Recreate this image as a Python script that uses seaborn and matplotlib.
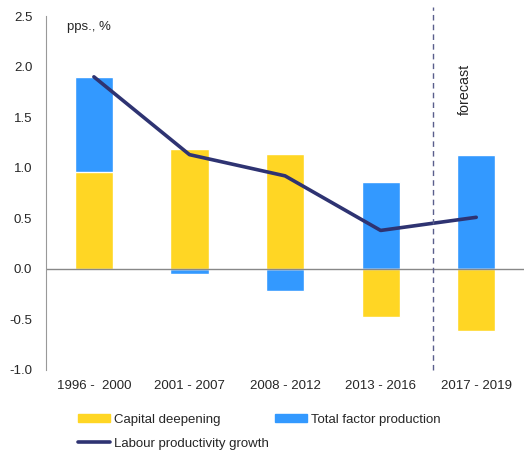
import numpy as np
import matplotlib
matplotlib.use("Agg")
import matplotlib.pyplot as plt
from matplotlib.patches import Patch
from matplotlib.lines import Line2D
import seaborn as sns

# Data
periods = ["1996 -  2000", "2001 - 2007", "2008 - 2012", "2013 - 2016", "2017 - 2019"]
capital_deepening = [0.96, 1.19, 1.14, -0.48, -0.62]
total_factor = [0.94, -0.05, -0.22, 0.86, 1.13]
labour_productivity = [1.90, 1.13, 0.92, 0.38, 0.51]

yellow = "#FFD624"
blue = "#3399FF"
navy = "#2E3372"

sns.set_style("white")
plt.rcParams["font.family"] = ["Liberation Sans", "DejaVu Sans"]
plt.rcParams["font.size"] = 9

fig = plt.figure(figsize=(5.24, 4.5), dpi=100)
ax = fig.add_axes([0.088, 0.178, 0.912, 0.786])

# stack TFP on top of capital deepening when both share a sign
cd = np.array(capital_deepening)
tfp = np.array(total_factor)
tfp_top = np.where(np.sign(cd) == np.sign(tfp), cd + tfp, tfp)

sns.barplot(x=periods, y=tfp_top, color=blue, width=0.4, saturation=1, ax=ax)
sns.barplot(x=periods, y=cd, color=yellow, width=0.4, saturation=1, ax=ax)
sns.lineplot(x=np.arange(len(periods)), y=labour_productivity, color=navy,
             linewidth=2.6, ax=ax)

ax.axhline(0, color="#888888", linewidth=1)
ax.axvline(3.55, ymin=0, ymax=1.025, color="#5A5E8C", linewidth=1,
           linestyle=(0, (4, 3)), clip_on=False)

ax.set_xlim(-0.5, 4.5)
ax.set_ylim(-1.0, 2.5)
ax.set_yticks(np.arange(-1.0, 2.51, 0.5))
ax.set_yticklabels([f"{v:.1f}" for v in np.arange(-1.0, 2.51, 0.5)])
ax.set_xlabel("")
ax.set_ylabel("")
ax.tick_params(axis="both", length=0, labelsize=9.5)
ax.tick_params(axis="x", pad=7)
ax.tick_params(axis="y", pad=10)

for s in ["top", "right", "bottom"]:
    ax.spines[s].set_visible(False)
ax.spines["left"].set_color("#999999")

ax.text(-0.28, 2.39, "pps., %", fontsize=9.5, ha="left", va="center")
ax.text(3.88, 1.78, "forecast", fontsize=10.3, rotation=90, ha="center", va="center")

handles = [
    Patch(color=yellow, label="Capital deepening"),
    Line2D([], [], color=navy, linewidth=2.6, label="Labour productivity growth"),
    Patch(color=blue, label="Total factor production"),
]
fig.legend(handles=handles, loc="upper left", bbox_to_anchor=(0.126, 0.107),
           ncol=2, frameon=False, fontsize=9.5, handlelength=2.42,
           handleheight=0.5, handletextpad=0.3, columnspacing=0.5,
           labelspacing=0.9)

fig.savefig("out.png", dpi=100)
